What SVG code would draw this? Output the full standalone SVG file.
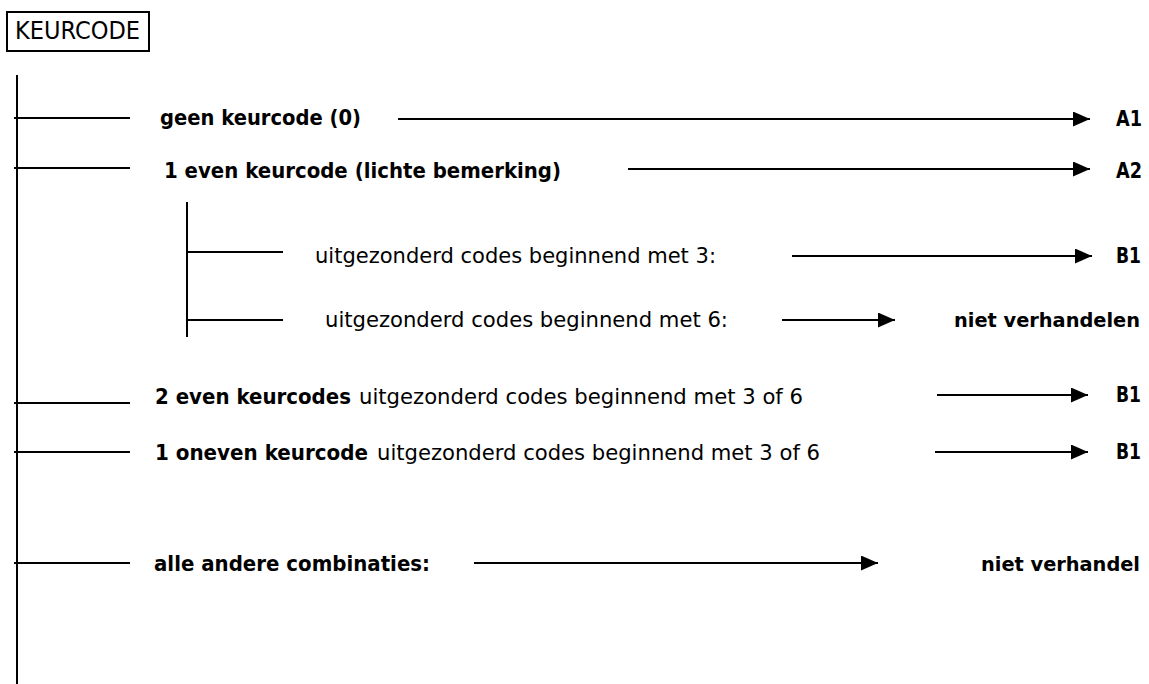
<svg xmlns="http://www.w3.org/2000/svg" width="1149" height="684" viewBox="0 0 1149 684">
<style>
text{font-family:'DejaVu Sans','Liberation Sans',sans-serif;font-size:21px;fill:#000}
.b{font-weight:bold;font-size:22px}
.r{font-weight:bold;font-size:19px}
.ln{stroke:#000;stroke-width:2;fill:none}
.ar{stroke:#000;stroke-width:2;fill:none;marker-end:url(#ah)}
</style>
<defs>
<marker id="ah" markerUnits="userSpaceOnUse" markerWidth="17" markerHeight="15" refX="17" refY="7.5" orient="auto">
<path d="M0,0 L17,7.5 L0,15 z" fill="#000"/>
</marker>
</defs>
<rect width="1149" height="684" fill="#fff"/>
<g id="title">
<rect x="7" y="12" width="142" height="39" fill="none" stroke="#000" stroke-width="2"/>
<text x="15" y="39" style="font-size:24px" textLength="125" lengthAdjust="spacingAndGlyphs">KEURCODE</text>
</g>
<g id="tree">
<line class="ln" x1="17" y1="75" x2="17" y2="684"/>
<line class="ln" x1="14" y1="118" x2="130" y2="118"/>
<line class="ln" x1="14" y1="168" x2="130" y2="168"/>
<line class="ln" x1="187" y1="202" x2="187" y2="337"/>
<line class="ln" x1="187" y1="252" x2="283" y2="252"/>
<line class="ln" x1="187" y1="320" x2="283" y2="320"/>
<line class="ln" x1="14" y1="403" x2="130" y2="403"/>
<line class="ln" x1="14" y1="452" x2="130" y2="452"/>
<line class="ln" x1="14" y1="563" x2="130" y2="563"/>
</g>
<g id="connectors">
<line class="ar" x1="398" y1="119" x2="1090" y2="119"/>
<line class="ar" x1="628" y1="169" x2="1090" y2="169"/>
<line class="ar" x1="792" y1="256" x2="1092" y2="256"/>
<line class="ar" x1="782" y1="320" x2="895" y2="320"/>
<line class="ar" x1="937" y1="395" x2="1088" y2="395"/>
<line class="ar" x1="935" y1="452" x2="1088" y2="452"/>
<line class="ar" x1="474" y1="563" x2="878" y2="563"/>
</g>
<g id="row1">
<text class="b" x="160" y="125" textLength="201" lengthAdjust="spacingAndGlyphs">geen keurcode (0)</text>
<text class="b" x="1116" y="126" textLength="26" lengthAdjust="spacingAndGlyphs">A1</text>
</g>
<g id="row2">
<text class="b" x="164" y="178" textLength="397" lengthAdjust="spacingAndGlyphs">1 even keurcode (lichte bemerking)</text>
<text class="b" x="1116" y="178" textLength="26" lengthAdjust="spacingAndGlyphs">A2</text>
</g>
<g id="row3">
<text x="315" y="263" textLength="401" lengthAdjust="spacingAndGlyphs">uitgezonderd codes beginnend met 3:</text>
<text class="b" x="1116" y="263" textLength="25" lengthAdjust="spacingAndGlyphs">B1</text>
</g>
<g id="row4">
<text x="325" y="327" textLength="403" lengthAdjust="spacingAndGlyphs">uitgezonderd codes beginnend met 6:</text>
<text class="r" x="954" y="327" textLength="186" lengthAdjust="spacingAndGlyphs">niet verhandelen</text>
</g>
<g id="row5">
<text class="b" x="155" y="404" textLength="196" lengthAdjust="spacingAndGlyphs">2 even keurcodes</text>
<text x="359" y="404" textLength="444" lengthAdjust="spacingAndGlyphs">uitgezonderd codes beginnend met 3 of 6</text>
<text class="b" x="1116" y="402" textLength="25" lengthAdjust="spacingAndGlyphs">B1</text>
</g>
<g id="row6">
<text class="b" x="155" y="460" textLength="213" lengthAdjust="spacingAndGlyphs">1 oneven keurcode</text>
<text x="377" y="460" textLength="443" lengthAdjust="spacingAndGlyphs">uitgezonderd codes beginnend met 3 of 6</text>
<text class="b" x="1116" y="459" textLength="25" lengthAdjust="spacingAndGlyphs">B1</text>
</g>
<g id="row7">
<text class="b" x="154" y="571" textLength="276" lengthAdjust="spacingAndGlyphs">alle andere combinaties:</text>
<text class="r" x="981" y="571" textLength="159" lengthAdjust="spacingAndGlyphs">niet verhandel</text>
</g>
</svg>
